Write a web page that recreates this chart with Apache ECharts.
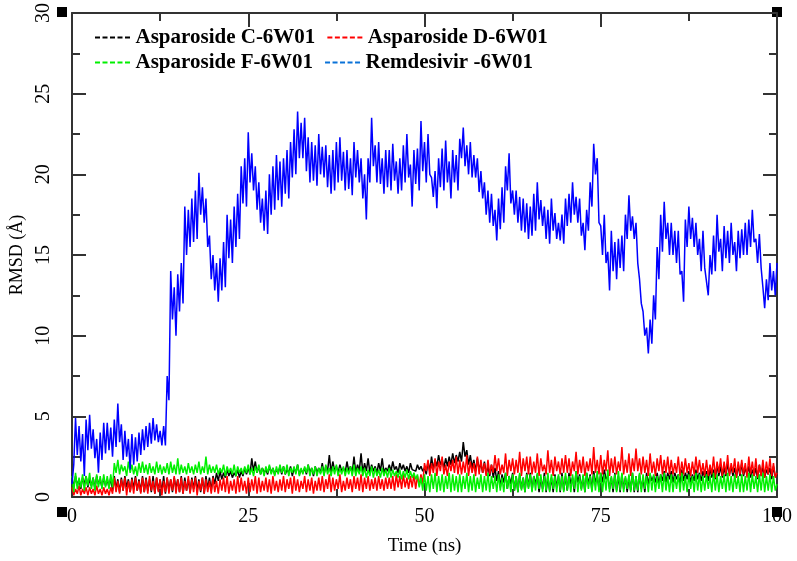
<!DOCTYPE html>
<html>
<head>
<meta charset="utf-8">
<title>RMSD</title>
<script src="https://cdn.jsdelivr.net/npm/echarts@6/dist/echarts.min.js"></script>
<style>
  html, body { margin: 0; padding: 0; background: #fff; }
  #chart { width: 797px; height: 561px; }
</style>
</head>
<body>
<div id="chart"></div>
<script>
// sampled every 0.25 ns, 0 .. 100 ns; values read off the plot,
// alternating between the upper and lower edge of each noise band
var STEP = 0.25;

var xTicks = [0, 25, 50, 75, 100];
var yTicks = [0, 5, 10, 15, 20, 25, 30];

var asparosideC = [
  1.2, 0.6, 1.3, 0.7, 1.1, 0.5, 1.2, 0.8, 1.3, 0.6, 1.1, 0.7, 1.2, 0.5, 1.3, 0.8, 1.1, 0.6, 1.2, 0.7,
  1.1, 0.6, 1.2, 0.4, 1.3, 0.5, 1.1, 0.3, 1.2, 0.4, 1.3, 0.6, 1.1, 0.3, 1.2, 0.5, 1.3, 0.4, 1.1, 0.3,
  1.3, 0.3, 1.2, 0.4, 1.1, 0.3, 1.3, 0.2, 1.2, 0.4, 1.1, 0.3, 1.3, 0.2, 1.2, 0.4, 1.1, 0.3, 1.2, 0.5,
  1.1, 0.3, 1.3, 0.2, 1.2, 0.4, 1.1, 0.3, 1.2, 0.5, 1.3, 0.4, 1.1, 0.3, 1.2, 0.2, 1.3, 0.5, 1.2, 0.4,
  1.3, 0.8, 1.5, 1.0, 1.6, 1.1, 1.5, 1.2, 1.7, 1.3, 1.6, 1.2, 1.5, 1.3, 1.7, 1.2, 1.6, 1.3, 1.8, 1.4,
  1.8, 1.4, 2.4, 1.6, 2.2, 1.5, 1.9, 1.4, 1.8, 1.5, 1.7, 1.4, 1.9, 1.5, 1.8, 1.4, 1.7, 1.5, 1.9, 1.4,
  1.9, 1.4, 1.7, 1.5, 1.9, 1.3, 1.8, 1.5, 2.0, 1.4, 1.7, 1.5, 1.8, 1.4, 2.0, 1.5, 1.8, 1.3, 1.9, 1.5,
  1.8, 1.5, 2.1, 1.4, 1.9, 1.6, 2.6, 1.5, 2.2, 1.6, 1.9, 1.5, 2.0, 1.6, 1.8, 1.5, 2.2, 1.6, 1.9, 1.5,
  2.5, 1.5, 2.0, 1.6, 2.7, 1.5, 2.1, 1.6, 2.4, 1.5, 2.0, 1.6, 1.9, 1.5, 2.1, 1.6, 2.4, 1.5, 1.8, 1.6,
  2.0, 1.6, 2.2, 1.7, 1.9, 1.5, 2.1, 1.7, 2.0, 1.6, 1.9, 1.5, 2.1, 1.7, 1.8, 1.6, 2.0, 1.7, 1.9, 1.6,
  1.8, 1.4, 2.2, 1.6, 2.5, 1.7, 2.3, 1.9, 2.6, 2.0, 2.3, 1.8, 2.4, 1.9, 2.5, 2.0, 2.7, 2.1, 2.6, 2.2,
  2.8, 2.2, 3.4, 2.5, 2.9, 2.0, 2.6, 1.8, 2.3, 1.6, 2.4, 1.7, 2.1, 1.5, 2.2, 1.4, 1.9, 1.3, 2.0, 1.2,
  1.8, 1.0, 1.6, 0.6, 1.4, 0.9, 1.5, 0.5, 1.3, 0.8, 1.5, 0.4, 1.3, 0.3, 1.4, 0.5, 1.2, 0.3, 1.5, 0.6,
  1.5, 0.4, 1.3, 0.8, 1.4, 0.3, 1.2, 0.5, 1.5, 0.3, 1.3, 0.4, 1.2, 0.3, 1.4, 0.6, 1.3, 0.3, 1.5, 0.4,
  1.3, 0.4, 1.5, 0.8, 1.2, 0.3, 1.6, 0.9, 1.4, 0.5, 1.3, 0.3, 1.5, 0.8, 1.4, 0.4, 1.6, 0.9, 1.3, 0.5,
  1.5, 0.9, 1.7, 1.1, 1.3, 0.5, 1.2, 0.3, 1.5, 0.4, 1.3, 0.3, 1.4, 0.5, 1.2, 0.3, 1.3, 0.4, 1.5, 0.3,
  1.3, 0.3, 1.4, 0.5, 1.2, 0.3, 1.5, 0.8, 1.4, 1.0, 1.3, 0.9, 1.5, 0.8, 1.4, 1.0, 1.6, 0.9, 1.5, 1.1,
  1.6, 0.9, 1.5, 1.1, 1.4, 0.8, 1.7, 1.0, 1.5, 1.1, 1.6, 0.9, 1.4, 1.0, 1.7, 1.1, 1.5, 1.0, 1.6, 1.2,
  1.6, 1.0, 1.8, 1.2, 1.7, 1.1, 2.0, 1.3, 1.9, 1.2, 1.8, 1.3, 2.1, 1.4, 1.9, 1.3, 1.8, 1.2, 2.0, 1.3,
  2.1, 1.3, 1.8, 1.4, 1.9, 1.2, 1.7, 1.3, 1.8, 1.1, 2.0, 1.3, 1.9, 1.2, 1.7, 1.4, 1.8, 1.1, 1.9, 1.3,
  1.4
];

var asparosideD = [
  0.6, 0.1, 0.5, 0.2, 0.7, 0.1, 0.5, 0.2, 0.6, 0.1, 0.6, 0.2, 0.5, 0.1, 0.7, 0.2, 0.5, 0.1, 0.6, 0.2,
  0.5, 0.1, 0.6, 0.2, 1.2, 0.3, 1.0, 0.2, 1.1, 0.4, 1.2, 0.1, 1.0, 0.3, 1.1, 0.2, 1.2, 0.4, 1.0, 0.2,
  1.2, 0.3, 1.1, 0.2, 1.3, 0.4, 1.0, 0.2, 1.2, 0.3, 1.1, 0.1, 1.0, 0.3, 1.2, 0.2, 1.1, 0.4, 1.3, 0.2,
  1.1, 0.3, 1.2, 0.2, 1.0, 0.4, 1.3, 0.2, 1.1, 0.3, 1.2, 0.1, 1.0, 0.4, 1.2, 0.2, 1.1, 0.3, 1.0, 0.2,
  1.2, 0.3, 1.0, 0.2, 1.1, 0.4, 1.2, 0.3, 1.3, 0.2, 1.0, 0.4, 1.1, 0.2, 1.3, 0.3, 1.2, 0.4, 1.0, 0.2,
  1.2, 0.3, 1.1, 0.4, 1.3, 0.2, 1.2, 0.3, 1.0, 0.4, 1.2, 0.3, 1.1, 0.2, 1.3, 0.4, 1.0, 0.3, 1.1, 0.4,
  1.3, 0.3, 1.1, 0.5, 1.2, 0.2, 1.3, 0.4, 1.1, 0.3, 1.0, 0.5, 1.3, 0.3, 1.1, 0.4, 1.2, 0.2, 1.0, 0.4,
  1.2, 0.4, 1.3, 0.3, 1.1, 0.5, 1.4, 0.3, 1.2, 0.4, 1.1, 0.5, 1.4, 0.3, 1.0, 0.4, 1.2, 0.5, 1.1, 0.3,
  1.3, 0.5, 1.2, 0.4, 1.4, 0.3, 1.2, 0.5, 1.3, 0.4, 1.1, 0.5, 1.2, 0.4, 1.3, 0.5, 1.1, 0.4, 1.2, 0.5,
  1.2, 0.5, 1.3, 0.4, 1.4, 0.6, 1.3, 0.5, 1.4, 0.6, 1.2, 0.5, 1.3, 0.6, 1.4, 0.5, 1.3, 0.7, 1.4, 0.8,
  2.1, 1.6, 2.3, 1.3, 2.1, 1.5, 2.4, 1.3, 2.2, 1.6, 2.5, 1.4, 2.0, 1.3, 2.2, 1.6, 2.3, 1.5, 2.5, 1.4,
  2.3, 1.4, 2.2, 1.5, 2.6, 1.3, 2.2, 1.5, 2.1, 1.3, 2.5, 1.4, 2.3, 1.5, 2.1, 1.3, 2.3, 1.4, 2.0, 1.5,
  2.6, 1.6, 2.4, 1.4, 2.0, 1.5, 2.7, 1.3, 2.3, 1.6, 2.4, 1.4, 2.3, 1.5, 2.8, 1.3, 2.4, 1.6, 2.5, 1.4,
  2.5, 1.4, 2.2, 1.5, 2.7, 1.3, 2.4, 1.6, 2.0, 1.4, 2.9, 1.5, 2.3, 1.3, 2.5, 1.6, 2.2, 1.4, 2.4, 1.5,
  2.6, 1.5, 2.4, 1.3, 2.2, 1.6, 2.8, 1.4, 2.3, 1.5, 2.5, 1.3, 2.2, 1.6, 2.4, 1.4, 3.1, 1.5, 2.3, 1.4,
  2.6, 1.4, 2.3, 1.6, 2.9, 1.3, 2.4, 1.5, 2.5, 1.4, 2.2, 1.6, 3.1, 1.4, 2.3, 1.5, 2.7, 1.3, 2.4, 1.6,
  3.0, 1.6, 2.4, 1.4, 2.5, 1.5, 2.3, 1.3, 2.7, 1.5, 2.2, 1.3, 2.4, 1.6, 2.6, 1.4, 2.3, 1.5, 2.5, 1.4,
  2.3, 1.4, 2.1, 1.5, 2.5, 1.3, 2.2, 1.4, 2.4, 1.5, 2.1, 1.3, 2.2, 1.4, 2.5, 1.5, 2.3, 1.4, 2.1, 1.3,
  2.3, 1.3, 2.0, 1.4, 2.5, 1.2, 2.2, 1.5, 2.4, 1.3, 2.2, 1.4, 2.6, 1.3, 2.1, 1.5, 2.4, 1.2, 2.2, 1.4,
  2.3, 1.4, 2.1, 1.2, 2.5, 1.4, 2.2, 1.3, 2.4, 1.2, 2.0, 1.3, 2.3, 1.2, 2.2, 1.4, 2.4, 1.3, 2.1, 1.2,
  1.5
];

var asparosideF = [
  1.3, 0.3, 1.5, 0.5, 1.2, 0.6, 1.4, 0.4, 1.3, 0.7, 1.5, 0.5, 1.2, 0.4, 1.4, 0.6, 1.3, 0.5, 1.4, 0.6,
  1.3, 0.5, 1.4, 0.6, 2.1, 1.5, 2.3, 1.4, 2.0, 1.6, 1.9, 1.3, 2.2, 1.5, 2.0, 1.4, 1.9, 1.3, 2.1, 1.5,
  2.2, 1.5, 2.0, 1.4, 2.1, 1.5, 1.9, 1.4, 2.2, 1.5, 2.0, 1.4, 1.9, 1.5, 2.1, 1.4, 2.2, 1.5, 2.0, 1.4,
  2.4, 1.4, 2.0, 1.5, 1.9, 1.4, 2.1, 1.5, 1.9, 1.4, 2.0, 1.5, 2.2, 1.4, 1.9, 1.5, 2.5, 1.4, 2.0, 1.5,
  1.9, 1.5, 2.0, 1.4, 1.8, 1.5, 2.0, 1.3, 1.9, 1.5, 1.8, 1.4, 2.0, 1.3, 1.9, 1.5, 1.8, 1.4, 1.9, 1.5,
  2.0, 1.4, 1.8, 1.3, 1.9, 1.5, 2.0, 1.4, 1.8, 1.3, 1.9, 1.5, 2.0, 1.4, 1.8, 1.3, 1.9, 1.4, 2.0, 1.5,
  1.9, 1.4, 2.0, 1.3, 1.8, 1.5, 1.9, 1.4, 2.0, 1.3, 1.8, 1.4, 1.9, 1.5, 2.0, 1.3, 1.8, 1.4, 1.9, 1.3,
  1.8, 1.4, 1.9, 1.3, 2.0, 1.4, 1.8, 1.3, 1.9, 1.4, 2.0, 1.3, 1.8, 1.4, 1.9, 1.3, 1.8, 1.4, 1.9, 1.3,
  2.0, 1.3, 1.8, 1.4, 1.9, 1.3, 1.8, 1.2, 1.7, 1.3, 1.9, 1.2, 1.8, 1.3, 1.7, 1.2, 1.8, 1.3, 1.7, 1.2,
  1.8, 1.2, 1.7, 1.3, 1.6, 1.2, 1.7, 1.1, 1.6, 1.2, 1.7, 1.1, 1.6, 1.2, 1.5, 1.1, 1.4, 0.6, 1.2, 0.4,
  1.4, 0.4, 1.3, 0.3, 1.4, 0.5, 1.5, 0.3, 1.3, 0.4, 1.4, 0.3, 1.3, 0.5, 1.5, 0.3, 1.4, 0.4, 1.3, 0.3,
  1.4, 0.3, 1.3, 0.5, 1.5, 0.3, 1.3, 0.4, 1.4, 0.3, 1.2, 0.5, 1.4, 0.3, 1.3, 0.4, 1.5, 0.3, 1.3, 0.5,
  1.3, 0.3, 1.4, 0.4, 1.2, 0.3, 1.5, 0.5, 1.3, 0.3, 1.4, 0.4, 1.3, 0.3, 1.5, 0.4, 1.2, 0.3, 1.4, 0.5,
  1.4, 0.3, 1.3, 0.4, 1.5, 0.5, 1.4, 0.3, 1.3, 0.4, 1.5, 0.3, 1.4, 0.5, 1.3, 0.3, 1.4, 0.4, 1.3, 0.3,
  1.5, 0.4, 1.3, 0.3, 1.4, 0.5, 1.6, 0.3, 1.3, 0.4, 1.4, 0.3, 1.5, 0.5, 1.3, 0.3, 1.4, 0.4, 1.6, 0.3,
  1.5, 0.3, 1.4, 0.4, 1.7, 0.3, 1.3, 0.5, 1.4, 0.3, 1.6, 0.4, 1.5, 0.3, 1.3, 0.5, 1.4, 0.3, 1.5, 0.4,
  1.3, 0.4, 1.5, 0.3, 1.4, 0.5, 1.3, 0.3, 1.5, 0.4, 1.4, 0.3, 1.3, 0.5, 1.4, 0.3, 1.5, 0.4, 1.3, 0.3,
  1.4, 0.3, 1.3, 0.5, 1.4, 0.3, 1.5, 0.4, 1.3, 0.3, 1.4, 0.5, 1.3, 0.3, 1.5, 0.4, 1.4, 0.3, 1.3, 0.4,
  1.4, 0.5, 1.3, 0.3, 1.5, 0.4, 1.4, 0.3, 1.3, 0.5, 1.4, 0.3, 1.5, 0.4, 1.3, 0.3, 1.4, 0.5, 1.3, 0.3,
  1.4, 0.3, 1.3, 0.4, 1.5, 0.3, 1.4, 0.5, 1.3, 0.3, 1.4, 0.4, 1.5, 0.3, 1.3, 0.4, 1.4, 0.3, 1.3, 0.4,
  0.8
];

var remdesivir = [
  0.8, 2.0, 4.9, 2.6, 4.4, 2.2, 3.9, 1.3, 4.8, 2.9, 5.1, 3.0, 4.2, 2.4, 3.6, 1.5, 4.0, 2.3, 4.6, 2.7,
  4.6, 2.9, 4.3, 2.5, 4.8, 3.1, 5.8, 3.4, 4.5, 2.3, 4.1, 2.5, 3.6, 1.7, 3.9, 2.0, 3.7, 2.2, 4.0, 2.6,
  4.2, 2.9, 4.4, 3.1, 4.6, 3.3, 4.9, 3.5, 4.5, 3.4, 4.1, 3.2, 4.4, 3.2, 7.5, 6.0, 14.0, 11.0, 13.0, 10.0,
  13.8, 11.5, 14.5, 12.0, 18.0, 15.0, 17.8, 15.5, 18.5, 15.8, 19.0, 16.0, 20.1, 17.5, 19.2, 17.0, 18.5, 15.5, 16.2, 13.5,
  15.0, 12.8, 14.5, 12.1, 14.8, 12.8, 15.8, 13.0, 17.5, 14.8, 17.2, 14.5, 18.0, 15.5, 18.8, 16.0, 20.5, 18.2, 21.0, 18.0,
  22.6, 19.5, 21.3, 19.0, 20.5, 17.8, 19.5, 17.0, 18.5, 16.5, 19.0, 16.3, 20.0, 17.5, 20.5, 17.8, 21.2, 18.4, 20.8, 18.0,
  21.0, 18.8, 21.5, 18.5, 22.0, 19.8, 22.8, 20.0, 23.9, 21.0, 23.2, 21.0, 23.5, 20.2, 22.3, 19.5, 22.0, 19.6, 21.8, 19.3,
  22.5, 20.0, 21.7, 19.8, 21.8, 19.2, 21.2, 18.8, 21.5, 19.0, 22.0, 19.5, 22.3, 19.6, 21.4, 19.0, 21.5, 19.1, 21.0, 18.7,
  22.0, 19.8, 21.5, 19.5, 21.0, 18.5, 20.0, 17.2, 21.0, 19.5, 23.5, 20.5, 21.8, 19.5, 22.0, 19.4, 21.0, 18.8, 21.5, 19.2,
  21.5, 19.0, 21.9, 19.6, 20.8, 18.8, 21.0, 19.0, 21.8, 19.5, 22.5, 19.8, 20.6, 18.0, 21.5, 19.4, 21.6, 19.0, 23.3, 20.2,
  22.0, 19.5, 22.5, 20.0, 19.8, 18.6, 20.2, 17.9, 21.0, 19.2, 21.6, 19.0, 22.1, 19.5, 20.8, 18.5, 21.5, 19.5, 21.2, 19.0,
  22.2, 21.0, 22.9, 20.5, 21.8, 20.0, 22.0, 19.8, 21.2, 19.8, 21.0, 18.9, 20.2, 18.5, 19.5, 17.5, 19.0, 17.0, 18.8, 16.8,
  17.8, 15.9, 18.5, 16.6, 19.2, 17.0, 20.5, 19.0, 21.3, 18.2, 19.0, 17.5, 19.0, 17.0, 18.6, 16.5, 18.5, 16.4, 18.2, 16.0,
  18.0, 16.2, 18.8, 16.5, 19.5, 17.2, 18.4, 16.8, 18.0, 16.0, 17.8, 15.7, 18.5, 16.5, 17.6, 16.0, 17.0, 15.9, 17.5, 15.7,
  18.5, 16.8, 18.8, 17.0, 19.5, 17.5, 18.6, 17.0, 18.5, 16.2, 17.0, 15.3, 17.8, 16.5, 19.5, 18.0, 21.9, 20.0, 21.0, 17.0,
  16.8, 15.0, 17.5, 14.5, 15.2, 12.8, 16.5, 14.0, 15.8, 13.5, 16.0, 14.2, 16.2, 14.0, 17.5, 16.0, 18.7, 16.5, 17.4, 16.0,
  17.0, 14.5, 13.5, 12.0, 11.5, 10.0, 10.5, 8.9, 11.0, 9.5, 12.5, 11.0, 15.5, 13.5, 17.5, 15.2, 18.3, 16.0, 17.0, 15.0,
  17.0, 15.0, 16.5, 14.5, 16.5, 13.8, 14.0, 12.1, 17.2, 15.5, 18.0, 16.0, 17.3, 15.5, 17.0, 15.0, 16.0, 14.0, 16.5, 14.2,
  14.2, 12.5, 15.0, 13.8, 16.2, 14.0, 17.5, 15.2, 16.0, 14.0, 16.8, 14.8, 16.5, 14.5, 17.0, 15.0, 15.8, 14.0, 16.5, 14.8,
  16.6, 15.0, 17.0, 15.0, 17.2, 15.5, 17.8, 15.8, 16.0, 14.5, 16.3, 14.2, 13.0, 11.7, 13.5, 12.2, 14.5, 12.8, 14.0, 12.5,
  14.5
];

function pairs(vals) {
  var out = [];
  for (var i = 0; i < vals.length; i++) out.push([i * STEP, vals[i]]);
  return out;
}

var serif = '"Liberation Serif", "Times New Roman", serif';
// dashed sample line used as legend icon
var dashIcon = 'path://M0,0h5v2h-5z M7.5,0h5v2h-5z M15,0h5v2h-5z M22.5,0h5v2h-5z M30,0h5v2h-5z';

var chart = echarts.init(document.getElementById('chart'));

function lineSeries(name, vals, color) {
  return {
    name: name,
    type: 'line',
    data: pairs(vals),
    symbol: 'none',
    animation: false,
    lineStyle: { color: color, width: 1.5 },
    itemStyle: { color: color }
  };
}

function frameAxis(pos, min, max, interval) {
  return {
    type: 'value', position: pos,
    min: min, max: max, interval: interval,
    axisLine: { onZero: false, lineStyle: { color: '#333', width: 2 } },
    axisTick: { inside: true, length: 14, lineStyle: { color: '#333', width: 2 } },
    minorTick: { show: true, splitNumber: 2, length: 8, lineStyle: { color: '#333', width: 2 } },
    splitLine: { show: false },
    axisLabel: { show: false }
  };
}

var legendCommon = {
  left: 90,
  orient: 'horizontal',
  icon: dashIcon,
  itemWidth: 36,
  itemHeight: 2,
  itemGap: 12,
  textStyle: { fontFamily: serif, fontWeight: 'bold', fontSize: 21, color: '#000' }
};

var option = {
  backgroundColor: '#fff',
  animation: false,
  legend: [
    Object.assign({}, legendCommon, {
      top: 22,
      data: ['Asparoside C-6W01', 'Asparoside D-6W01']
    }),
    Object.assign({}, legendCommon, {
      top: 47,
      data: ['Asparoside F-6W01', { name: 'Remdesivir -6W01', itemStyle: { color: '#0a72d8' } }]
    })
  ],
  grid: { left: 62, right: 20, top: 12, bottom: 49 },
  xAxis: [{
    type: 'value',
    min: 0, max: 100, interval: 25,
    name: 'Time (ns)',
    nameLocation: 'middle',
    nameGap: 40,
    nameTextStyle: { fontFamily: serif, fontSize: 19, color: '#000' },
    axisLine: { onZero: false, lineStyle: { color: '#333', width: 2 } },
    axisTick: { inside: true, length: 14, lineStyle: { color: '#333', width: 2 } },
    minorTick: { show: true, splitNumber: 2, length: 8, lineStyle: { color: '#333', width: 2 } },
    splitLine: { show: false },
    axisLabel: { fontFamily: serif, fontSize: 20, color: '#000', margin: 10,
      formatter: function (v) { return xTicks.indexOf(v) >= 0 ? String(v) : ''; } }
  }, frameAxis('top', 0, 100, 25)],
  yAxis: [{
    type: 'value',
    min: 0, max: 30, interval: 5,
    name: 'RMSD (Å)',
    nameLocation: 'middle',
    nameGap: 46,
    nameRotate: 90,
    nameTextStyle: { fontFamily: serif, fontSize: 18, color: '#000' },
    axisLine: { onZero: false, lineStyle: { color: '#333', width: 2 } },
    axisTick: { inside: true, length: 14, lineStyle: { color: '#333', width: 2 } },
    minorTick: { show: true, splitNumber: 2, length: 8, lineStyle: { color: '#333', width: 2 } },
    splitLine: { show: false },
    axisLabel: { fontFamily: serif, fontSize: 20, color: '#000', rotate: 90, margin: 18,
      formatter: function (v) { return yTicks.indexOf(v) >= 0 ? String(v) : ''; } }
  }, frameAxis('right', 0, 30, 5)],
  graphic: [
    // little corner squares of the frame
    { type: 'rect', left: 57, top: 7, shape: { width: 10, height: 10 }, style: { fill: '#000' } },
    { type: 'rect', left: 772, top: 7, shape: { width: 10, height: 10 }, style: { fill: '#000' } },
    { type: 'rect', left: 57, top: 507, shape: { width: 10, height: 10 }, style: { fill: '#000' } },
    { type: 'rect', left: 772, top: 507, shape: { width: 10, height: 10 }, style: { fill: '#000' } }
  ],
  series: [
    lineSeries('Asparoside C-6W01', asparosideC, '#000000'),
    lineSeries('Asparoside D-6W01', asparosideD, '#ff0000'),
    lineSeries('Asparoside F-6W01', asparosideF, '#00f000'),
    lineSeries('Remdesivir -6W01', remdesivir, '#0000ff')
  ]
};

chart.setOption(option);
</script>
</body>
</html>
